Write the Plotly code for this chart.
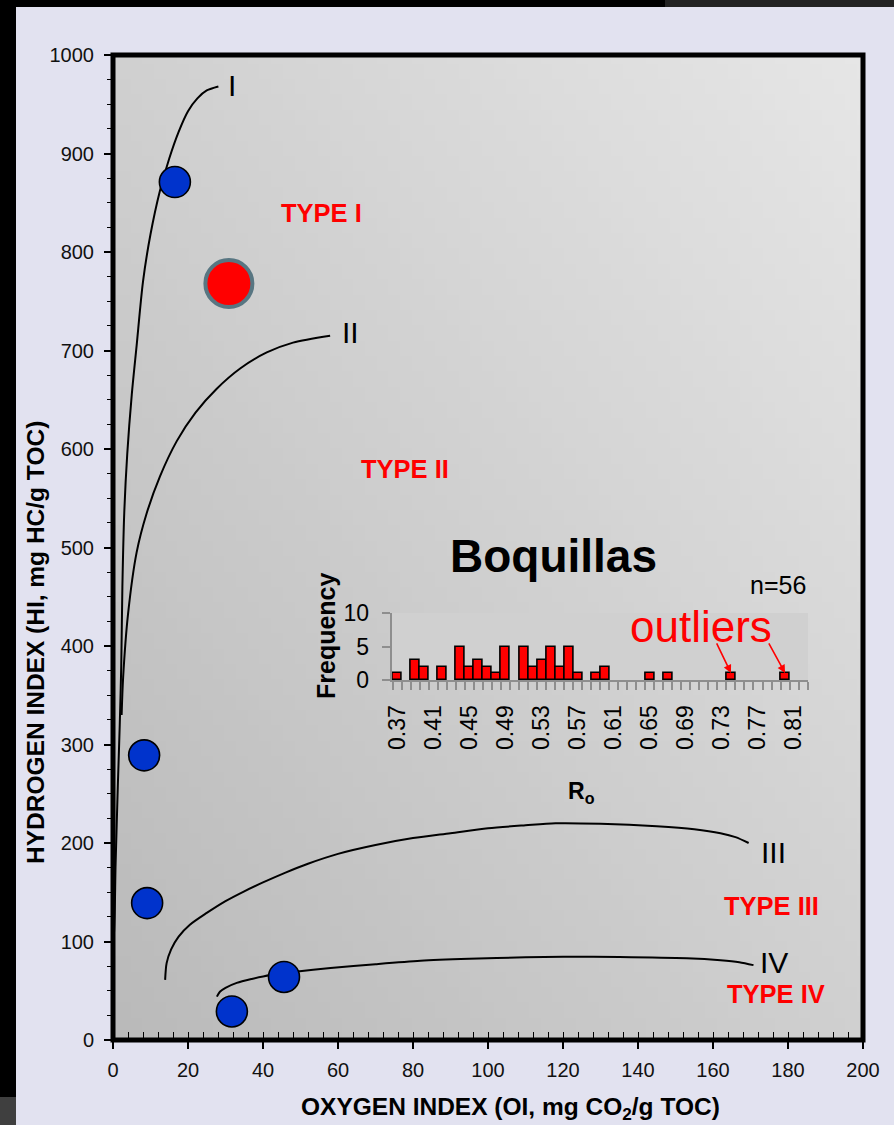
import base64
import struct
import zlib
import plotly.graph_objects as go

# ---------------- data ----------------
sample_oi = [16.5, 8.3, 9.1, 45.6, 31.7]
sample_hi = [871, 289, 139, 64, 29]
highlight_oi = [30.9]
highlight_hi = [768]

curve_I_oi = [-1.6, -0.8, 0.1, 0.7, 1.3, 1.8, 2.2, 2.5, 3.0, 3.8, 5.0, 6.3, 8.0, 10.0, 12.5, 15.0, 17.5, 20.0, 22.5, 25.0, 28.1]
curve_I_hi = [69, 85, 100, 180, 260, 320, 380, 460, 535, 595, 655, 705, 770, 818, 862, 895, 922, 943, 956, 964, 968]

curve_II_oi = [2.3, 2.7, 4.0, 6.3, 9.0, 12.5, 17.0, 22.0, 27.6, 34.0, 41.0, 48.0, 57.9]
curve_II_hi = [330, 368, 432, 495, 535, 572, 608, 637, 661, 682, 698, 708, 715]

curve_III_oi = [13.9, 14.3, 15.5, 17.5, 20.5, 25.0, 30.0, 35.0, 40.0, 46.0, 52.0, 60.0, 70.0, 80.0, 90.0,
                100.0, 110.0, 118.0, 130.0, 145.0, 155.0, 162.0, 166.0, 169.5]
curve_III_hi = [61, 78, 92, 105, 117, 129, 141, 151, 160, 170, 179, 189, 198, 205, 210,
                215, 218, 220, 219.5, 217, 214, 210, 206, 200]

curve_IV_oi = [27.7, 28.5, 30.0, 33.0, 37.0, 42.0, 48.0, 58.0, 70.0, 82.0, 95.0, 110.0, 120.0, 135.0,
               153.0, 162.0, 167.0, 170.8]
curve_IV_hi = [44, 49, 53, 58, 62, 66, 69, 73, 77, 80.5, 82.5, 84, 84.6, 84.3, 83, 81, 79, 76]

curve_labels = ["I", "II", "III", "IV"]
curve_label_oi = [31.7, 63.2, 176.0, 176.3]
curve_label_hi = [969, 718, 190, 79]

type_labels = ["TYPE I", "TYPE II", "TYPE III", "TYPE IV"]
type_label_oi = [55.7, 77.9, 175.6, 176.8]
type_label_hi = [840, 580, 136, 47]

ro_bins = [0.37, 0.38, 0.39, 0.40, 0.41, 0.42, 0.43, 0.44, 0.45, 0.46, 0.47, 0.48, 0.49, 0.50,
           0.51, 0.52, 0.53, 0.54, 0.55, 0.56, 0.57, 0.58, 0.59, 0.60, 0.61, 0.62, 0.63, 0.64,
           0.65, 0.66, 0.67, 0.68, 0.69, 0.70, 0.71, 0.72, 0.73, 0.74, 0.75, 0.76, 0.77, 0.78,
           0.79, 0.80, 0.81, 0.82]
ro_freq = [1, 0, 3, 2, 0, 2, 0, 5, 2, 3, 2, 1, 5, 0,
           5, 2, 3, 5, 2, 5, 1, 0, 1, 2, 0, 0, 0, 0,
           1, 0, 1, 0, 0, 0, 0, 0, 0, 1, 0, 0, 0, 0,
           0, 1, 0, 0]
ro_tick_labels = ["0.37", "0.41", "0.45", "0.49", "0.53", "0.57", "0.61",
                  "0.65", "0.69", "0.73", "0.77", "0.81"]
outlier_ro = [0.74, 0.80]

# ---------------- helpers ----------------
W, H = 894, 1125
L, R, T, B = 113, 31, 55, 85
PW, PH = W - L - R, H - T - B


def px(x):
    return (x - L) / PW


def py(y):
    return (H - B - y) / PH


def gradient_png(w, h, dark, light):
    rows = []
    for j in range(h):
        row = bytearray([0])
        v = j / (h - 1)
        for i in range(w):
            u = i / (w - 1)
            t = (u + (1 - v)) / 2
            c = int(round(dark + (light - dark) * t))
            row += bytes([c, c, c])
        rows.append(bytes(row))
    raw = b"".join(rows)

    def chunk(tag, data):
        return struct.pack(">I", len(data)) + tag + data + struct.pack(">I", zlib.crc32(tag + data) & 0xffffffff)

    png = b"\x89PNG\r\n\x1a\n"
    png += chunk(b"IHDR", struct.pack(">IIBBBBB", w, h, 8, 2, 0, 0, 0))
    png += chunk(b"IDAT", zlib.compress(raw, 9))
    png += chunk(b"IEND", b"")
    return "data:image/png;base64," + base64.b64encode(png).decode()


FONT = "Liberation Sans, Arial, sans-serif"

fig = go.Figure()

line_style = dict(color="black", width=2, shape="spline", smoothing=0.8)
for xs, ys in [(curve_I_oi, curve_I_hi), (curve_II_oi, curve_II_hi),
               (curve_III_oi, curve_III_hi), (curve_IV_oi, curve_IV_hi)]:
    fig.add_trace(go.Scatter(x=xs, y=ys, mode="lines", line=line_style,
                             hoverinfo="skip", showlegend=False))

fig.add_trace(go.Scatter(x=sample_oi, y=sample_hi, mode="markers",
                         marker=dict(size=31, color="#0033cc", line=dict(color="black", width=1.6)),
                         showlegend=False))
fig.add_trace(go.Scatter(x=highlight_oi, y=highlight_hi, mode="markers",
                         marker=dict(size=47, color="#ff0000", line=dict(color="#587682", width=4)),
                         showlegend=False))

fig.add_trace(go.Bar(x=ro_bins, y=[v if v else None for v in ro_freq], width=0.01,
                     marker=dict(color="#ff0000", line=dict(color="black", width=1.6)),
                     xaxis="x2", yaxis="y2", showlegend=False))

annotations = []
for t, x, y in zip(curve_labels, curve_label_oi, curve_label_hi):
    annotations.append(dict(x=x, y=y, xref="x", yref="y", text=t, showarrow=False,
                            xanchor="center", yanchor="middle",
                            font=dict(family=FONT, size=30, color="black")))
for t, x, y in zip(type_labels, type_label_oi, type_label_hi):
    annotations.append(dict(x=x, y=y, xref="x", yref="y", text=t, showarrow=False,
                            xanchor="center", yanchor="middle",
                            font=dict(family=FONT, size=25.5, color="#ff0000", weight="bold")))


def paper_text(xp, yp, text, size, color="black", bold=False, angle=0):
    f = dict(family=FONT, size=size, color=color)
    if bold:
        f["weight"] = "bold"
    return dict(x=px(xp), y=py(yp), xref="paper", yref="paper", text=text, showarrow=False,
                xanchor="center", yanchor="middle", textangle=angle, font=f)


annotations += [
    paper_text(553, 556, "Boquillas", 46, bold=True),
    paper_text(778, 585, "n=56", 25),
    paper_text(701, 626, "outliers", 44, color="#ff0000"),
    paper_text(326, 636, "Frequency", 25, bold=True, angle=-90),
    paper_text(581, 792, "R<sub>o</sub>", 23, bold=True),
    paper_text(510, 1108, "OXYGEN INDEX (OI, mg CO<sub>2</sub>/g TOC)", 24.5, bold=True),
    paper_text(35, 643, "HYDROGEN INDEX (HI, mg HC/g TOC)", 24.5, bold=True, angle=-90),
]
for r, dx in zip(outlier_ro, [-15, -17]):
    annotations.append(dict(x=r, y=1.05, xref="x2", yref="y2", text="", showarrow=True,
                            ax=dx, ay=-31, arrowcolor="#ff0000", arrowwidth=1.6,
                            arrowhead=2, arrowsize=1, standoff=0))

shapes = [
    dict(type="rect", xref="paper", yref="paper", x0=0, x1=1, y0=0, y1=1,
         line=dict(color="black", width=5), layer="above"),
    dict(type="rect", xref="paper", yref="paper", x0=px(0), x1=px(16), y0=py(H), y1=py(0),
         fillcolor="#000000", line=dict(width=0)),
    dict(type="rect", xref="paper", yref="paper", x0=px(0), x1=px(16), y0=py(H), y1=py(1097),
         fillcolor="#3f3f3f", line=dict(width=0)),
    dict(type="rect", xref="paper", yref="paper", x0=px(0), x1=px(665), y0=py(7), y1=py(0),
         fillcolor="#000000", line=dict(width=0)),
    dict(type="rect", xref="paper", yref="paper", x0=px(665), x1=px(W), y0=py(7), y1=py(0),
         fillcolor="#232323", line=dict(width=0)),
]

bin_edges = [round(b - 0.005, 3) for b in ro_bins] + [round(ro_bins[-1] + 0.005, 3)]

fig.update_layout(
    width=W, height=H, autosize=False,
    margin=dict(l=L, r=R, t=T, b=B, pad=0),
    paper_bgcolor="#e2e2f0",
    plot_bgcolor="#d0d0d0",
    font=dict(family=FONT, color="black"),
    showlegend=False,
    annotations=annotations,
    shapes=shapes,
    images=[dict(source=gradient_png(64, 64, 186, 230), xref="paper", yref="paper",
                 x=0, y=1, sizex=1, sizey=1, sizing="stretch", layer="below",
                 xanchor="left", yanchor="top")],
    xaxis=dict(range=[0, 200], dtick=20, tick0=0, showgrid=False, zeroline=False, showline=False,
               ticks="outside", ticklen=8, tickwidth=1.5, tickcolor="black",
               tickfont=dict(size=20, family=FONT, color="#111111"), ticklabelstandoff=4,
               minor=dict(dtick=4, tick0=0, ticks="inside", ticklen=8, tickwidth=1, tickcolor="black")),
    yaxis=dict(range=[0, 1000], dtick=100, tick0=0, showgrid=False, zeroline=False, showline=False,
               ticks="outside", ticklen=8, tickwidth=1.5, tickcolor="black",
               tickfont=dict(size=20, family=FONT, color="#111111"), ticklabelstandoff=6,
               minor=dict(dtick=25, tick0=0, ticks="outside", ticklen=5, tickwidth=1, tickcolor="black")),
    xaxis2=dict(domain=[px(391.7), px(808)], anchor="y2", range=[0.3635, 0.8255],
                tickmode="array", tickvals=[float(s) for s in ro_tick_labels], ticktext=ro_tick_labels,
                ticks="", tickangle=-90, showgrid=False, zeroline=False,
                showline=True, linecolor="#8e8e8e", linewidth=2,
                tickfont=dict(size=23, family=FONT, color="black"), ticklabelstandoff=14,
                minor=dict(tickmode="array", tickvals=bin_edges, ticks="outside", ticklen=8,
                           tickwidth=2, tickcolor="#8e8e8e", showgrid=False)),
    yaxis2=dict(domain=[py(680), py(613)], anchor="x2", range=[0, 10],
                tickvals=[0, 5, 10], ticks="outside", ticklen=8, tickwidth=2, tickcolor="#8e8e8e",
                showline=True, linecolor="#8e8e8e", linewidth=2, showgrid=False, zeroline=False,
                tickfont=dict(size=23, family=FONT, color="black"), ticklabelstandoff=8),
    bargap=0,
)

fig.write_html("out.html", config={"displayModeBar": False},
               post_script="document.body.style.margin='0px';document.body.style.padding='0px';"
                           "document.documentElement.style.background='#e2e2f0';")
